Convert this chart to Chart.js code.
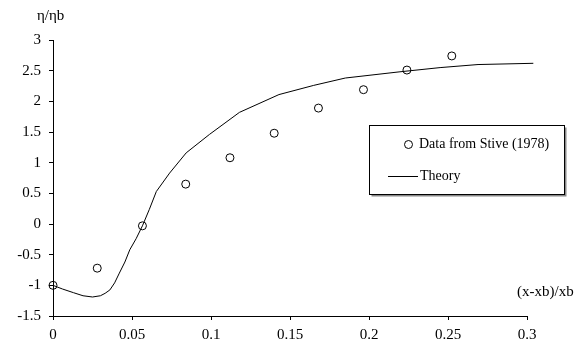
<!DOCTYPE html>
<html>
<head>
<meta charset="utf-8">
<script src="https://cdn.jsdelivr.net/npm/chart.js@4.4.1/dist/chart.umd.min.js"></script>
<style>
  html, body { margin: 0; padding: 0; background: #fff; }
  #wrap { width: 584px; height: 347px; }
</style>
</head>
<body>
<div id="wrap"><canvas id="chart"></canvas></div>
<script>
// measured data (Stive 1978)
var dataX = [0, 0.028, 0.0566, 0.084, 0.112, 0.140, 0.168, 0.1965, 0.224, 0.2524];
var dataY = [-1.0, -0.72, -0.03, 0.65, 1.08, 1.48, 1.89, 2.19, 2.51, 2.74];

// theory curve
var theoryX = [0, 0.006, 0.013, 0.019, 0.025, 0.030, 0.033, 0.036, 0.039, 0.042, 0.0455, 0.0486, 0.0526, 0.0566, 0.061, 0.0654, 0.0738, 0.0843, 0.099, 0.118, 0.143, 0.165, 0.185, 0.219, 0.245, 0.269, 0.304];
var theoryY = [-1.0, -1.06, -1.12, -1.17, -1.19, -1.17, -1.13, -1.075, -0.96, -0.80, -0.62, -0.42, -0.24, -0.03, 0.24, 0.53, 0.83, 1.16, 1.46, 1.82, 2.11, 2.26, 2.38, 2.48, 2.55, 2.60, 2.62];

var xTicks = [0, 0.05, 0.1, 0.15, 0.2, 0.25, 0.3];
var yTicks = [-1.5, -1, -0.5, 0, 0.5, 1, 1.5, 2, 2.5, 3];

var legendLabels = ['Data from Stive (1978)', 'Theory'];
var yTitle = 'η/ηb';
var xTitle = '(x-xb)/xb';

function pairs(xs, ys) {
    return xs.map(function(x, i) { return { x: x, y: ys[i] }; });
}

// legend box + axis titles, drawn on the canvas
var extras = {
    id: 'extras',
    afterDraw: function(chart) {
        var ctx = chart.ctx;
        ctx.save();
        ctx.fillStyle = '#000';
        ctx.font = '15px "Liberation Serif", "Times New Roman", serif';
        ctx.textBaseline = 'middle';
        ctx.textAlign = 'left';
        ctx.fillText(yTitle, 37, 16);
        ctx.fillText(xTitle, 517, 292);

        // legend
        var lx = 369.5, ly = 125.5, lw = 195, lh = 69;
        ctx.fillStyle = '#fff';
        ctx.fillRect(lx, ly, lw, lh);
        ctx.strokeStyle = '#888';
        ctx.lineWidth = 2;
        ctx.beginPath();
        ctx.moveTo(lx + 2, ly + lh + 1);
        ctx.lineTo(lx + lw + 1, ly + lh + 1);
        ctx.lineTo(lx + lw + 1, ly + 2);
        ctx.stroke();
        ctx.strokeStyle = '#000';
        ctx.lineWidth = 1;
        ctx.strokeRect(lx, ly, lw, lh);

        ctx.beginPath();
        ctx.arc(408.5, 144.5, 4, 0, Math.PI * 2);
        ctx.stroke();
        ctx.beginPath();
        ctx.moveTo(388, 176.5);
        ctx.lineTo(418, 176.5);
        ctx.stroke();

        ctx.fillStyle = '#000';
        ctx.font = '14px "Liberation Serif", "Times New Roman", serif';
        ctx.fillText(legendLabels[0], 419, 144);
        ctx.fillText(legendLabels[1], 420, 176);
        ctx.restore();
    }
};

var tickFont = { family: '"Liberation Serif", "Times New Roman", serif', size: 15 };

new Chart(document.getElementById('chart').getContext('2d'), {
    type: 'scatter',
    data: {
        datasets: [{
            label: legendLabels[1],
            data: pairs(theoryX, theoryY),
            showLine: true,
            borderColor: '#000',
            borderWidth: 1,
            pointRadius: 0,
            tension: 0,
            clip: false
        }, {
            label: legendLabels[0],
            data: pairs(dataX, dataY),
            showLine: false,
            pointStyle: 'circle',
            pointRadius: 4,
            borderColor: '#000',
            borderWidth: 1,
            backgroundColor: 'rgba(0,0,0,0)',
            clip: false
        }]
    },
    options: {
        responsive: true,
        maintainAspectRatio: false,
        animation: false,
        events: [],
        layout: { padding: { top: 40, right: 57, left: 0, bottom: 0 } },
        plugins: { legend: { display: false }, tooltip: { enabled: false } },
        scales: {
            x: {
                type: 'linear',
                min: 0,
                max: 0.3,
                afterFit: function(s) { s.height = 31; },
                afterBuildTicks: function(s) { s.ticks = xTicks.map(function(v) { return { value: v }; }); },
                ticks: {
                    color: '#000',
                    font: tickFont,
                    padding: 6,
                    maxRotation: 0,
                    callback: function(v) { return String(v); }
                },
                grid: { drawOnChartArea: false, drawTicks: true, tickLength: 4, color: '#000' },
                border: { display: true, color: '#000', width: 1 }
            },
            y: {
                type: 'linear',
                min: -1.5,
                max: 3,
                afterFit: function(s) { s.width = 53; },
                afterBuildTicks: function(s) { s.ticks = yTicks.map(function(v) { return { value: v }; }); },
                ticks: {
                    color: '#000',
                    font: tickFont,
                    padding: 8,
                    callback: function(v) { return String(v); }
                },
                grid: { drawOnChartArea: false, drawTicks: true, tickLength: 4, color: '#000' },
                border: { display: true, color: '#000', width: 1 }
            }
        }
    },
    plugins: [extras]
});
</script>
</body>
</html>
